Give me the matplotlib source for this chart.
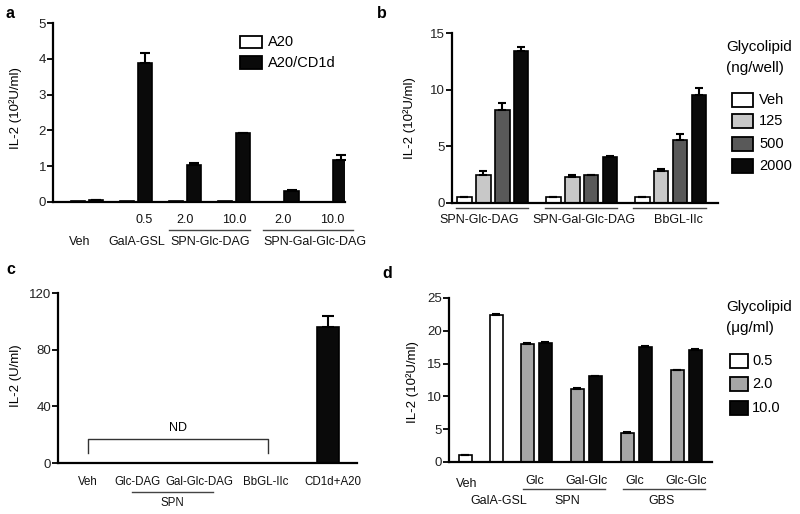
import numpy as np
import matplotlib
matplotlib.use("Agg")
import matplotlib.pyplot as plt
from matplotlib.patches import Rectangle
from matplotlib import transforms

plt.rcParams['font.family'] = ['Liberation Sans', 'DejaVu Sans']

# panel a
a_groups = ['Veh', '0.5', '2.0', '10.0', '2.0', '10.0']
a_a20 = [0.03, 0.02, 0.03, 0.04, 0.01, 0.01]
a_cd1d = [0.05, 3.88, 1.03, 1.92, 0.32, 1.18]
a_cd1d_err = [0.0, 0.28, 0.06, 0.02, 0.01, 0.14]

# panel b
b_groups = ['SPN-Glc-DAG', 'SPN-Gal-Glc-DAG', 'BbGL-IIc']
b_doses = ['Veh', '125', '500', '2000']
b_vals = [[0.55, 0.55, 0.55],
          [2.45, 2.25, 2.85],
          [8.2, 2.45, 5.6],
          [13.45, 4.05, 9.5]]
b_err = [[0.0, 0.0, 0.0],
         [0.35, 0.25, 0.15],
         [0.65, 0.05, 0.45],
         [0.3, 0.1, 0.65]]
b_colors = ['white', '#c8c8c8', '#595959', '#0a0a0a']

# panel c
c_labels = ['Veh', 'Glc-DAG', 'Gal-Glc-DAG', 'BbGL-IIc', 'CD1d+A20']
c_val = 96
c_err = 8

# panel d
d_doses = ['0.5', '2.0', '10.0']
d_colors = ['white', '#a6a6a6', '#0a0a0a']
d_single = [1.0, 22.4]          # Veh, GalA-GSL at 0.5
d_single_err = [0.1, 0.1]
d_pair_labels = ['Glc', 'Gal-Glc', 'Glc', 'Glc-Glc']
d_2 = [18.0, 11.1, 4.4, 14.0]
d_2_err = [0.2, 0.25, 0.15, 0.05]
d_10 = [18.2, 13.1, 17.6, 17.1]
d_10_err = [0.1, 0.05, 0.15, 0.15]

W, H = 800, 514
fig = plt.figure(figsize=(8, 5.14), dpi=100)

FS = 9        # category text
TICK = 9.5
LEG_T = 11    # legend titles
LEG = 10.5    # legend entries


def fy(py):
    return 1 - py / H


def fx(px):
    return px / W


def make_ax(left, right, top, bottom):
    ax = fig.add_axes([fx(left), fy(bottom), (right - left) / W, (bottom - top) / H])
    for s in ['top', 'right']:
        ax.spines[s].set_visible(False)
    for s in ['left', 'bottom']:
        ax.spines[s].set_linewidth(1.6)
    ax.set_xticks([])
    ax.tick_params(axis='y', length=4, width=1.3, labelsize=TICK, pad=1, labelcolor='#222')
    return ax


def blend(ax):
    return transforms.blended_transform_factory(ax.transData, fig.transFigure)


def box(x, y, w, h, color):
    fig.add_artist(Rectangle((fx(x), fy(y + h)), w / W, h / H, transform=fig.transFigure,
                             facecolor=color, edgecolor='black', linewidth=1.3))


txt = dict(fontsize=FS, ha='center', va='center', color='#111')

# ---------- a ----------
ax = make_ax(53, 345, 23, 202)
xa = np.arange(len(a_groups))
ax.bar(xa - 0.18, a_a20, 0.29, color='white', edgecolor='black', linewidth=1.2)
ax.bar(xa + 0.18, a_cd1d, 0.29, color='#0a0a0a', edgecolor='black', linewidth=1.2)
ax.errorbar(xa + 0.18, a_cd1d, yerr=[np.zeros(6), a_cd1d_err], fmt='none',
            ecolor='black', capsize=3.5, elinewidth=1.5, capthick=1.5)
ax.set_xlim(-0.69, 5.27)
ax.set_ylim(0, 5)
ax.set_yticks([0, 1, 2, 3, 4, 5])
tr = blend(ax)
ax.text(1.18, fy(220), a_groups[1], transform=tr, **txt)
for i in [2, 3, 4, 5]:
    ax.text(i, fy(220), a_groups[i], transform=tr, **txt)
ax.plot([1.68, 3.33], [fy(230)] * 2, transform=tr, color='#444', lw=1, clip_on=False)
ax.plot([3.6, 5.43], [fy(230)] * 2, transform=tr, color='#444', lw=1, clip_on=False)
ax.text(-0.14, fy(242), 'Veh', transform=tr, **txt)
ax.text(1.02, fy(242), 'GalA-GSL', transform=tr, **txt)
ax.text(2.52, fy(242), 'SPN-Glc-DAG', transform=tr, **txt)
ax.text(4.65, fy(242), 'SPN-Gal-Glc-DAG', transform=tr, **txt)
fig.text(fx(16), fy(108), 'IL-2 (10²U/ml)', rotation=90, fontsize=TICK, ha='center', va='center')
box(240, 36, 22, 12, 'white')
box(240, 56, 22, 13, '#0a0a0a')
fig.text(fx(268), fy(42), 'A20', fontsize=LEG, va='center')
fig.text(fx(268), fy(63), 'A20/CD1d', fontsize=LEG, va='center')
fig.text(fx(10), fy(14), 'a', fontsize=11.5, fontweight='bold', ha='center', va='center')

# ---------- b ----------
ax = make_ax(452, 718, 33, 203)
xb = np.arange(len(b_groups))
for k in range(4):
    pos = xb + (k - 1.5) * 0.213
    ax.bar(pos, b_vals[k], 0.16, color=b_colors[k], edgecolor='black', linewidth=1.2)
    ax.errorbar(pos, b_vals[k], yerr=[np.zeros(3), b_err[k]], fmt='none',
                ecolor='black', capsize=3, elinewidth=1.5, capthick=1.5)
ax.set_xlim(-0.46, 2.53)
ax.set_ylim(0, 15)
ax.set_yticks([0, 5, 10, 15])
tr = blend(ax)
for j, name in enumerate(b_groups):
    ax.plot([j - 0.42, j + 0.39], [fy(208)] * 2, transform=tr, color='#444', lw=1, clip_on=False)
ax.text(-0.15, fy(220), b_groups[0], transform=tr, **txt)
ax.text(1.02, fy(220), b_groups[1], transform=tr, **txt)
ax.text(2.08, fy(220), b_groups[2], transform=tr, **txt)
fig.text(fx(410), fy(118), 'IL-2 (10²U/ml)', rotation=90, fontsize=TICK, ha='center', va='center')
fig.text(fx(726), fy(47), 'Glycolipid', fontsize=LEG_T, va='center')
fig.text(fx(726), fy(68), '(ng/well)', fontsize=LEG_T, va='center')
for k, y in enumerate([93, 114, 137, 159]):
    box(732, y, 21, 14, b_colors[k])
    fig.text(fx(759), fy(y + 7), b_doses[k], fontsize=LEG, va='center')
fig.text(fx(382), fy(14), 'b', fontsize=11.5, fontweight='bold', ha='center', va='center')

# ---------- c ----------
ax = make_ax(58, 357, 293, 463)
xc = np.arange(len(c_labels))
ax.bar(xc[-1:], [c_val], 0.37, color='#0a0a0a', edgecolor='black', linewidth=1.2)
ax.errorbar(xc[-1:], [c_val], yerr=[[0], [c_err]], fmt='none', ecolor='black',
            capsize=4.5, elinewidth=1.5, capthick=1.5)
ax.set_xlim(-0.5, 4.48)
ax.set_ylim(0, 120)
ax.set_yticks([0, 40, 80, 120])
ax.plot([0, 0, 3, 3], [7, 17, 17, 7], color='#333', lw=1)
ax.text(1.5, 25, 'ND', fontsize=FS, ha='center', va='center')
tr = blend(ax)
ctxt = dict(txt, fontsize=8.3)
ax.text(0, fy(482), c_labels[0], transform=tr, **ctxt)
ax.text(0.82, fy(482), c_labels[1], transform=tr, **ctxt)
ax.text(1.86, fy(482), c_labels[2], transform=tr, **ctxt)
ax.text(2.96, fy(482), c_labels[3], transform=tr, **ctxt)
ax.text(4.08, fy(482), c_labels[4], transform=tr, **ctxt)
ax.plot([0.73, 2.08], [fy(492)] * 2, transform=tr, color='#444', lw=1, clip_on=False)
ax.text(1.4, fy(503), 'SPN', transform=tr, **ctxt)
fig.text(fx(16), fy(376), 'IL-2 (U/ml)', rotation=90, fontsize=TICK, ha='center', va='center')
fig.text(fx(11), fy(269), 'c', fontsize=11.5, fontweight='bold', ha='center', va='center')

# ---------- d ----------
ax = make_ax(449, 712, 298, 462)
xs = np.array([0.58, 1.2])
ax.bar(xs, d_single, 0.26, color='white', edgecolor='black', linewidth=1.2)
ax.errorbar(xs, d_single, yerr=[np.zeros(2), d_single_err], fmt='none', ecolor='black',
            capsize=3, elinewidth=1.5, capthick=1.5)
xp = np.arange(len(d_pair_labels)) + 2
ax.bar(xp - 0.18, d_2, 0.26, color=d_colors[1], edgecolor='black', linewidth=1.2)
ax.bar(xp + 0.18, d_10, 0.26, color=d_colors[2], edgecolor='black', linewidth=1.2)
ax.errorbar(xp - 0.18, d_2, yerr=[np.zeros(4), d_2_err], fmt='none', ecolor='black',
            capsize=3, elinewidth=1.5, capthick=1.5)
ax.errorbar(xp + 0.18, d_10, yerr=[np.zeros(4), d_10_err], fmt='none', ecolor='black',
            capsize=3, elinewidth=1.5, capthick=1.5)
ax.set_xlim(0.26, 5.52)
ax.set_ylim(0, 25)
ax.set_yticks([0, 5, 10, 15, 20, 25])
tr = blend(ax)
ax.text(0.62, fy(484), 'Veh', transform=tr, **txt)
ax.text(1.26, fy(501), 'GalA-GSL', transform=tr, **txt)
for m, name in enumerate(d_pair_labels):
    ax.text(xp[m] - 0.02 + (0.02 if m % 2 else 0), fy(481), name, transform=tr, **txt)
ax.plot([1.74, 3.38], [fy(489)] * 2, transform=tr, color='#444', lw=1, clip_on=False)
ax.plot([3.74, 5.38], [fy(489)] * 2, transform=tr, color='#444', lw=1, clip_on=False)
ax.text(2.62, fy(501), 'SPN', transform=tr, **txt)
ax.text(4.52, fy(501), 'GBS', transform=tr, **txt)
fig.text(fx(413), fy(382), 'IL-2 (10²U/ml)', rotation=90, fontsize=TICK, ha='center', va='center')
fig.text(fx(726), fy(307), 'Glycolipid', fontsize=LEG_T, va='center')
fig.text(fx(726), fy(328), '(μg/ml)', fontsize=LEG_T, va='center')
for k, y in enumerate([354, 377, 401]):
    box(730, y, 18, 14, d_colors[k])
    fig.text(fx(752), fy(y + 7), d_doses[k], fontsize=LEG, va='center')
fig.text(fx(387), fy(273), 'd', fontsize=11.5, fontweight='bold', ha='center', va='center')

fig.savefig('out.png', dpi=100, facecolor='white')
